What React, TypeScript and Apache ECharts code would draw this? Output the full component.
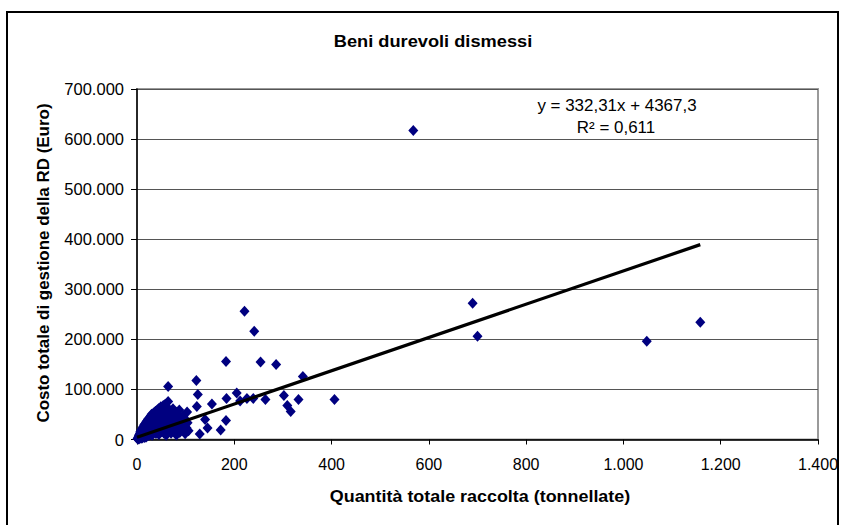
import React, { useEffect, useRef } from "react";
import * as echarts from "echarts";

// ---- data (quantity in tonnes, cost in euro) ----
const titleText = "Beni durevoli dismessi";
const xAxisTitle = "Quantità totale raccolta (tonnellate)";
const yAxisTitle = "Costo totale di gestione della RD (Euro)";
const equationText = "y = 332,31x + 4367,3";
const r2Text = "R² = 0,611";

const xTicks = [0, 200, 400, 600, 800, 1000, 1200, 1400];
const yTicks = [0, 100000, 200000, 300000, 400000, 500000, 600000, 700000];

// scattered municipalities
const spreadPoints: [number, number][] = [
  [568, 617000], [690, 272000], [700, 206000], [1048, 196000], [1158, 234000],
  [221, 256000], [241, 216000], [183, 156000], [254, 155000], [286, 150000],
  [341, 126000], [122, 118000], [64, 106000], [205, 93000], [125, 90000],
  [123, 66000], [154, 71000], [103, 55000], [184, 82000], [212, 77000],
  [226, 82000], [239, 82000], [264, 80000], [302, 88000], [309, 68000],
  [316, 56000], [332, 80000], [406, 80000], [183, 38000], [172, 19000],
  [145, 23000], [129, 11000], [140, 40000], [87, 59000], [64, 76000],
];

// dense cluster near the origin
const clusterPoints: [number, number][] = [
  [1, 1500], [2, 3000], [2, 800], [3, 5200], [3, 2100], [4, 7800], [4, 1200], [5, 4300],
  [5, 9800], [6, 2600], [6, 12500], [7, 6400], [7, 15800], [8, 3300], [8, 9100], [9, 19500],
  [9, 5800], [10, 12000], [10, 2400], [11, 22500], [11, 8200], [12, 15400], [12, 4100],
  [13, 26000], [13, 11200], [14, 18800], [14, 6900], [15, 29500], [15, 13500],
  [16, 3800], [16, 21800], [17, 9800], [17, 32000], [18, 16500], [18, 25400], [19, 5200],
  [19, 35000], [20, 12800], [20, 28500], [21, 19500], [21, 38000], [22, 7400], [22, 31500],
  [23, 23800], [23, 41000], [24, 14600], [24, 34500], [25, 9200], [25, 27600], [26, 44000],
  [26, 19800], [27, 36800], [27, 12100], [28, 47000], [28, 24500], [29, 31200], [29, 16200],
  [30, 39500], [30, 50500],
  [31, 8600], [32, 27800], [32, 43500], [33, 20500], [34, 53000], [34, 35800], [35, 14300],
  [36, 46800], [36, 30200], [37, 23500], [38, 56500], [38, 40500], [39, 11800], [40, 33600],
  [40, 49500], [41, 26800], [42, 59500], [42, 18200], [43, 43800], [44, 36200], [45, 62000],
  [45, 9800], [46, 29400], [47, 52500], [48, 22600], [48, 41000], [49, 65500], [50, 33800],
  [50, 15400],
  [51, 56800], [52, 46200], [53, 26400], [54, 68000], [55, 38500], [55, 12800], [56, 60500],
  [57, 21400], [58, 49800], [58, 70500], [59, 31600], [60, 8400], [61, 43200], [62, 64000],
  [63, 25800], [64, 54500], [65, 17200], [66, 37800], [67, 59000], [68, 29800], [69, 47200],
  [70, 12600], [71, 52800], [72, 22400], [73, 40600], [74, 61500], [75, 33000],
  [76, 16800], [78, 45800], [79, 27200], [80, 55000], [81, 9200], [82, 38400], [84, 21600],
  [85, 49500], [86, 31400], [88, 14200], [89, 42800], [90, 25600], [92, 36500], [94, 18400],
  [95, 47500], [97, 29200], [99, 11500], [100, 39800], [102, 22800], [104, 33500], [106, 17500],
];

// linear trend line endpoints (y = 332,31x + 4367,3 over the data range)
const trendX = [0, 1158];
const trendY = [4367, 389182];

const fmt = (v: number) => String(Math.round(v)).replace(/\B(?=(\d{3})+(?!\d))/g, ".");

export default function App() {
  const ref = useRef<HTMLDivElement>(null);

  useEffect(() => {
    if (!ref.current) return;
    const chart = echarts.init(ref.current, undefined, { renderer: "svg" });
    const font = "'Liberation Sans', Arial, sans-serif";
    const option: any = {
      animation: false,
      backgroundColor: "#ffffff",
      textStyle: { fontFamily: font },
      grid: {
        left: 137,
        right: 27,
        top: 89,
        bottom: 85.5,
        show: true,
        borderColor: "#9a9a9a",
        borderWidth: 2,
        backgroundColor: "#ffffff",
      },
      xAxis: {
        type: "value",
        min: xTicks[0],
        max: xTicks[xTicks.length - 1],
        interval: 200,
        axisLine: { show: true, onZero: false, lineStyle: { color: "#000", width: 1.5 } },
        axisTick: { show: true, length: 5, lineStyle: { color: "#000" } },
        splitLine: { show: false },
        axisLabel: {
          color: "#000",
          fontSize: 16,
          fontFamily: font,
          margin: 17,
          formatter: (v: number) => fmt(v),
        },
      },
      yAxis: {
        type: "value",
        min: yTicks[0],
        max: yTicks[yTicks.length - 1],
        interval: 100000,
        axisLine: { show: true, onZero: false, lineStyle: { color: "#000", width: 1.5 } },
        axisTick: { show: true, length: 6, lineStyle: { color: "#000" } },
        splitLine: { show: true, lineStyle: { color: "#555", width: 1 } },
        axisLabel: {
          color: "#000",
          fontSize: 16.5,
          fontFamily: font,
          margin: 13,
          formatter: (v: number) => fmt(v),
        },
      },
      series: [
        {
          type: "scatter",
          symbol: "diamond",
          symbolSize: [10, 11],
          itemStyle: { color: "#000080", opacity: 1 },
          data: [...clusterPoints, ...spreadPoints],
          z: 2,
        },
        {
          type: "line",
          data: trendX.map((x, i) => [x, trendY[i]]),
          symbol: "none",
          lineStyle: { color: "#000", width: 3.2 },
          z: 3,
        },
      ],
      graphic: [
        {
          type: "rect",
          shape: { x: 7, y: 12, width: 831, height: 600 },
          style: { fill: "none", stroke: "#000", lineWidth: 2 },
          silent: true,
          z: 100,
        },
        {
          type: "text",
          x: 433,
          y: 41,
          scaleX: 1.14,
          style: {
            text: titleText,
            fontFamily: font,
            fontSize: 16,
            fontWeight: "bold",
            fill: "#000",
            textAlign: "center",
            textVerticalAlign: "middle",
          },
        },
        {
          type: "text",
          x: 480,
          y: 497,
          scaleX: 1.12,
          style: {
            text: xAxisTitle,
            fontFamily: font,
            fontSize: 16,
            fontWeight: "bold",
            fill: "#000",
            textAlign: "center",
            textVerticalAlign: "middle",
          },
        },
        {
          type: "text",
          x: 43.5,
          y: 263,
          rotation: Math.PI / 2,
          scaleX: 1.06,
          style: {
            text: yAxisTitle,
            fontFamily: font,
            fontSize: 16,
            fontWeight: "bold",
            fill: "#000",
            textAlign: "center",
            textVerticalAlign: "middle",
          },
        },
        {
          type: "text",
          x: 617,
          y: 105,
          scaleX: 1.06,
          style: {
            text: equationText,
            fontFamily: font,
            fontSize: 16,
            fill: "#000",
            textAlign: "center",
            textVerticalAlign: "middle",
          },
        },
        {
          type: "text",
          x: 616,
          y: 127,
          scaleX: 1.06,
          style: {
            text: r2Text,
            fontFamily: font,
            fontSize: 16,
            fill: "#000",
            textAlign: "center",
            textVerticalAlign: "middle",
          },
        },
      ],
    };
    chart.setOption(option);
    return () => chart.dispose();
  }, []);

  return (
    <div
      ref={ref}
      style={{ position: "fixed", left: 0, top: 0, width: 845, height: 525, background: "#fff" }}
    />
  );
}
